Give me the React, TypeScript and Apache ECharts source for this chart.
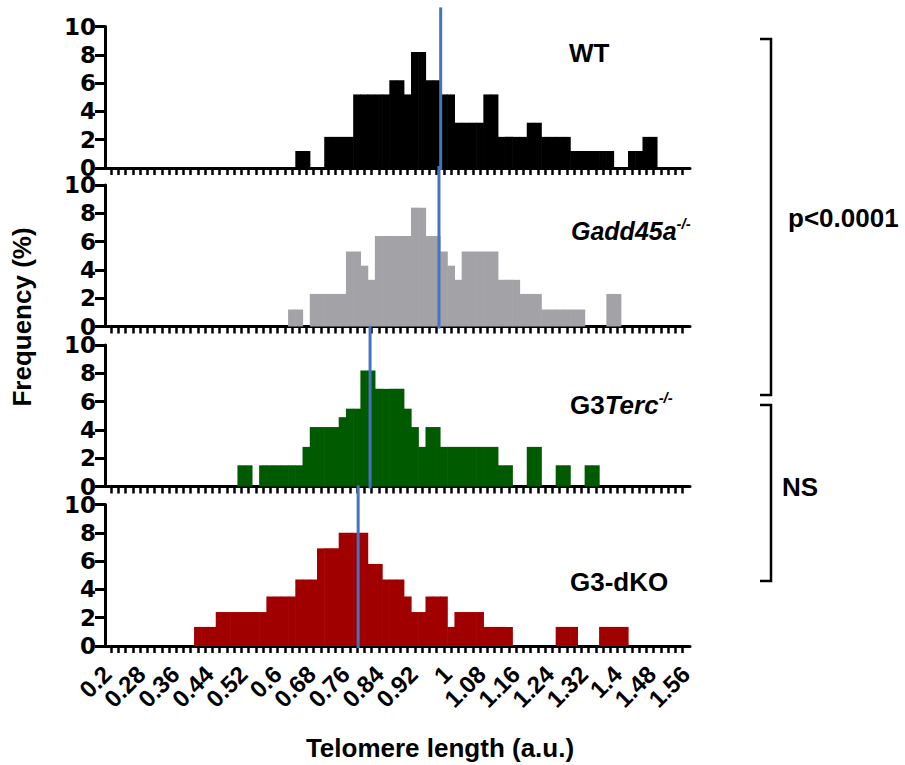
import React, { useEffect, useRef } from "react";
import * as echarts from "echarts";

// Histogram cells (telomere length, a.u.)
const CELL_START = 0.405;
const CELL_WIDTH = 0.017;

// Frequency (%) per cell
const wtFreq = [
  0, 0, 0, 0, 0, 0, 0, 0, 0, 0, 0, 0, 0, 0, 1.2, 1.2, 0, 0, 2.2, 2.2, 2.2, 2.2,
  5.2, 5.2, 5.2, 5.2, 5.2, 6.2, 6.2, 5.2, 8.2, 8.2, 6.2, 6.2, 5.2, 5.2, 3.2, 3.2,
  3.2, 3.2, 5.2, 5.2, 2.2, 2.2, 2.2, 2.2, 3.2, 3.2, 2.2, 2.2, 2.2, 2.2, 1.2, 1.2,
  1.2, 1.2, 1.2, 1.2, 0, 0, 1.2, 1.2, 2.2, 2.2,
];
const gaddFreq = [
  0, 0, 0, 0, 0, 0, 0, 0, 0, 0, 0, 0, 0, 1.2, 1.2, 0, 2.3, 2.3, 2.3, 2.3, 2.3,
  5.3, 5.3, 4.3, 3.3, 6.4, 6.4, 6.4, 6.4, 6.4, 8.4, 8.4, 6.4, 6.4, 5.3, 4.3, 3.3,
  5.3, 5.3, 5.3, 5.3, 5.3, 3.3, 3.3, 3.3, 2.3, 2.3, 2.3, 1.2, 1.2, 1.2, 1.2, 1.2,
  1.2, 0, 0, 0, 2.3, 2.3, 0, 0, 0, 0, 0,
];
const tercFreq = [
  0, 0, 0, 0, 0, 0, 1.5, 1.5, 0, 1.5, 1.5, 1.5, 1.5, 1.5, 1.5, 2.8, 4.2, 4.2, 4.2,
  4.2, 4.9, 5.5, 5.5, 8.2, 8.2, 6.9, 6.9, 6.9, 6.9, 5.5, 4.2, 2.8, 4.2, 4.2, 2.8,
  2.8, 2.8, 2.8, 2.8, 2.8, 2.8, 2.8, 1.5, 1.5, 0, 0, 2.8, 2.8, 0, 0, 1.5, 1.5, 0,
  0, 1.5, 1.5, 0, 0, 0, 0, 0, 0, 0, 0,
];
const dkoFreq = [
  1.35, 1.35, 1.35, 2.4, 2.4, 2.4, 2.4, 2.4, 2.4, 2.4, 3.5, 3.5, 3.5, 3.5, 4.7,
  4.7, 4.7, 6.9, 6.9, 6.9, 8.0, 8.0, 8.0, 8.0, 5.8, 5.8, 4.7, 4.7, 4.7, 3.5, 2.4,
  2.4, 3.5, 3.5, 3.5, 1.35, 2.4, 2.4, 2.4, 2.4, 1.35, 1.35, 1.35, 1.35, 0, 0, 0,
  0, 0, 0, 1.35, 1.35, 1.35, 0, 0, 0, 1.35, 1.35, 1.35, 1.35, 0, 0, 0, 0,
];

// Mean telomere length per genotype (blue lines)
const means = [0.984, 0.98, 0.818, 0.79];

const panelNames = ["WT", "Gadd45a-/-", "G3Terc-/-", "G3-dKO"];
const panelColors = ["#000000", "#a3a3a7", "#005a00", "#a00000"];

const xTickLabels = [
  "0.2", "0.28", "0.36", "0.44", "0.52", "0.6", "0.68", "0.76", "0.84", "0.92",
  "1", "1.08", "1.16", "1.24", "1.32", "1.4", "1.48", "1.56",
];
const yTicks = [0, 2, 4, 6, 8, 10];

const X_MIN = 0.195;
const X_MAX = 1.57;
const TICK_START = 0.2095;

const ARIAL = "'Liberation Sans', Arial, Helvetica, sans-serif";

export default function App() {
  const ref = useRef<HTMLDivElement>(null);

  useEffect(() => {
    document.body.style.margin = "0";
    document.body.style.overflow = "hidden";
    if (!ref.current) return;
    const chart = echarts.init(ref.current, undefined, { renderer: "svg" });

    const datasets = [wtFreq, gaddFreq, tercFreq, dkoFreq];
    const tops = [26.5, 185, 345, 504.5];
    const gridH = 141.5;

    const minorTicks: number[] = [];
    for (let v = TICK_START; v <= X_MAX - 0.003; v += CELL_WIDTH) {
      minorTicks.push(+v.toFixed(4));
    }
    const labelValues = xTickLabels.map(Number);

    const grids = tops.map((t) => ({
      left: 105,
      top: t,
      width: 585,
      height: gridH,
      containLabel: false,
      outerBoundsMode: "none",
    }));

    const xAxes = tops.map((_, i) => ({
      type: "value",
      gridIndex: i,
      min: X_MIN,
      max: X_MAX,
      axisLine: { show: true, onZero: false, lineStyle: { color: "#000", width: 3 } },
      axisTick: {
        show: true,
        inside: false,
        length: 7,
        customValues: minorTicks,
        lineStyle: { color: "#000", width: 2.5 },
      },
      axisLabel:
        i === 3
          ? {
              show: true,
              rotate: 45,
              customValues: labelValues,
              showMinLabel: true,
              showMaxLabel: true,
              hideOverlap: false,
              margin: 24,
              color: "#000",
              fontFamily: ARIAL,
              fontWeight: "bold",
              fontSize: 24,
              formatter: (v: number) => {
                const f = xTickLabels.find((l) => Math.abs(Number(l) - v) < 1e-6);
                return f ?? String(v);
              },
            }
          : { show: false },
      splitLine: { show: false },
    }));

    const yAxes = tops.map((_, i) => ({
      type: "value",
      gridIndex: i,
      min: yTicks[0],
      max: yTicks[yTicks.length - 1],
      interval: 2,
      axisLine: { show: true, lineStyle: { color: "#000", width: 3 } },
      axisTick: { show: true, length: 10, lineStyle: { color: "#000", width: 3 } },
      axisLabel: {
        margin: 9,
        color: "#000",
        fontFamily: "'DejaVu Sans', sans-serif",
        fontWeight: "bold",
        fontSize: 23,
        lineHeight: 15,
        showMinLabel: true,
        showMaxLabel: true,
      },
      splitLine: { show: false },
    }));

    const series: any[] = [];
    datasets.forEach((arr, i) => {
      const color = panelColors[i];
      series.push({
        type: "custom",
        name: panelNames[i],
        xAxisIndex: i,
        yAxisIndex: i,
        encode: { x: 0, y: 1 },
        data: arr.map((h, m) => [CELL_START + CELL_WIDTH * (m + 0.5), h]),
        renderItem: (_p: any, api: any) => {
          const x = api.value(0);
          const h = api.value(1);
          if (!h) return null;
          const a = api.coord([x - CELL_WIDTH / 2, h]);
          const b = api.coord([x + CELL_WIDTH / 2, 0]);
          return {
            type: "rect",
            shape: { x: a[0] - 0.3, y: a[1], width: b[0] - a[0] + 0.6, height: b[1] - a[1] },
            style: { fill: color },
          };
        },
        z: 2,
      });
      series.push({
        type: "custom",
        name: panelNames[i] + " mean",
        xAxisIndex: i,
        yAxisIndex: i,
        clip: false,
        encode: { x: 0, y: 1 },
        data: [[means[i], 11.35]],
        renderItem: (_p: any, api: any) => {
          const x = api.value(0);
          const top = api.value(1);
          const a = api.coord([x, 0]);
          const b = api.coord([x, top]);
          return {
            type: "line",
            shape: { x1: a[0], y1: a[1] + 2, x2: b[0], y2: b[1] },
            style: { stroke: "#4472c4", lineWidth: 3 },
          };
        },
        z: 5,
      });
    });

    const labelFont = (size: number, italic = false) => ({
      fontFamily: ARIAL,
      fontWeight: "bold",
      fontSize: size,
      fontStyle: italic ? "italic" : "normal",
      fill: "#000",
    });

    const graphic: any[] = [
      {
        type: "text",
        x: 22,
        y: 317,
        rotation: Math.PI / 2,
        style: { text: "Frequency (%)", ...labelFont(26), align: "center", verticalAlign: "middle" },
      },
      {
        type: "text",
        x: 440,
        y: 748,
        style: { text: "Telomere length (a.u.)", ...labelFont(26), align: "center", verticalAlign: "middle" },
      },
      {
        type: "text",
        x: 569,
        y: 53,
        style: { text: "WT", ...labelFont(26), align: "left", verticalAlign: "middle" },
      },
      {
        type: "text",
        x: 571,
        y: 231,
        style: {
          text: "{a|Gadd45a}{s|-/-}",
          align: "left",
          verticalAlign: "middle",
          rich: {
            a: { ...labelFont(25, true), lineHeight: 30 },
            s: { ...labelFont(15, true), verticalAlign: "top", lineHeight: 30 },
          },
        },
      },
      {
        type: "text",
        x: 570,
        y: 405,
        style: {
          text: "{n|G3}{a|Terc}{s|-/-}",
          align: "left",
          verticalAlign: "middle",
          rich: {
            n: { ...labelFont(26), lineHeight: 30 },
            a: { ...labelFont(26, true), lineHeight: 30 },
            s: { ...labelFont(15, true), verticalAlign: "top", lineHeight: 30 },
          },
        },
      },
      {
        type: "text",
        x: 570,
        y: 582,
        style: { text: "G3-dKO", ...labelFont(26), align: "left", verticalAlign: "middle" },
      },
      {
        type: "polyline",
        shape: { points: [[760, 39], [771, 39], [771, 395], [760, 395]] },
        style: { stroke: "#000", lineWidth: 2.5, fill: null },
      },
      {
        type: "polyline",
        shape: { points: [[760, 405], [771, 405], [771, 581], [760, 581]] },
        style: { stroke: "#000", lineWidth: 2.5, fill: null },
      },
      {
        type: "text",
        x: 788,
        y: 218,
        style: { text: "p<0.0001", ...labelFont(26), align: "left", verticalAlign: "middle" },
      },
      {
        type: "text",
        x: 782,
        y: 487,
        style: { text: "NS", ...labelFont(26), align: "left", verticalAlign: "middle" },
      },
    ];

    chart.setOption({
      animation: false,
      backgroundColor: "#ffffff",
      grid: grids,
      xAxis: xAxes,
      yAxis: yAxes,
      series,
      graphic,
    } as any);

    return () => chart.dispose();
  }, []);

  return <div ref={ref} style={{ width: 905, height: 765 }} />;
}
